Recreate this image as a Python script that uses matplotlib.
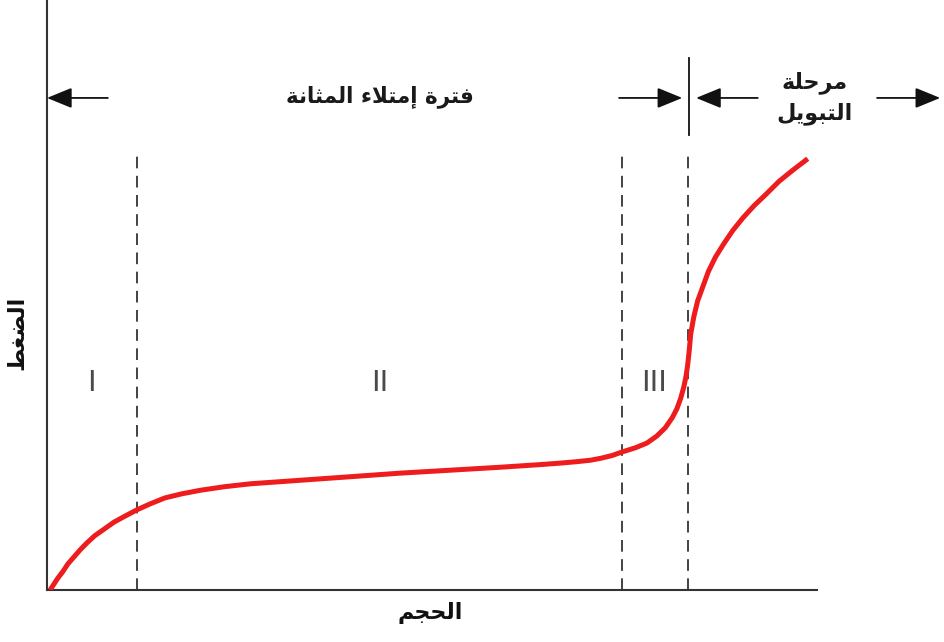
import matplotlib
matplotlib.use("Agg")
import matplotlib.pyplot as plt

# ---- data (volume vs pressure, arbitrary units 0-100) ----
volume = [0.4, 0.9, 1.4, 2.1, 2.7, 3.5, 4.3, 5.2, 6.2, 7.4, 8.7, 10.1, 11.7,
          13.4, 15.3, 17.5, 19.9, 23.0, 26.4, 32.9, 39.4, 45.8, 52.3, 58.8,
          64.0, 66.6, 68.8, 70.6, 72.0, 73.4, 74.7, 76.4, 77.9, 79.2, 80.3,
          81.2, 81.8, 82.3, 82.7, 83.0, 83.2, 83.4, 83.6, 84.0, 84.5, 85.2,
          85.9, 86.8, 87.9, 89.1, 90.4, 91.8, 93.4, 95.1, 96.9, 98.8]
pressure = [0.0, 1.0, 2.0, 3.2, 4.4, 5.6, 6.8, 8.0, 9.2, 10.3, 11.5, 12.5, 13.6,
            14.6, 15.6, 16.3, 16.9, 17.5, 18.0, 18.6, 19.2, 19.8, 20.3, 20.8,
            21.25, 21.5, 21.75, 22.0, 22.35, 22.8, 23.4, 24.1, 24.9, 26.1,
            27.5, 29.2, 30.7, 32.5, 34.4, 36.3, 38.1, 40.5, 43.4, 46.3, 49.0,
            51.5, 54.0, 56.4, 58.7, 61.0, 63.1, 65.1, 67.1, 69.3, 71.2, 73.1]
phase_bounds = [11.7, 74.7, 83.2]
phase_labels = ["I", "II", "III"]
phase_label_x = [5.8, 43.2, 78.8]

# Arabic strings in presentation forms, visual (left-to-right) order
filling_txt = ("\uFE94\uFEE7\uFE8E\uFE9C\uFEE4\uFEDF\uFE8D" + " " +
               "\uFE80\uFEFC\uFE98\uFEE3\uFE87" + " " +
               "\uFE93\uFEAE\uFE98\uFED3")           # فترة إمتلاء المثانة
voiding_txt = ("\uFE94\uFEE0\uFEA3\uFEAE\uFEE3" + "\n" +
               "\uFEDE\uFEF3\uFEEE\uFE92\uFE98\uFEDF\uFE8D")  # مرحلة / التبويل
ylabel_txt = "\uFEC2\uFED0\uFEC0\uFEDF\uFE8D"       # الضغط
xlabel_txt = "\uFEE2\uFEA0\uFEA4\uFEDF\uFE8D"       # الحجم

W, H = 945, 642
fig = plt.figure(figsize=(W / 100, H / 100), dpi=100)
ax = fig.add_axes([47 / W, (H - 590) / H, 770 / W, 590 / H])
ax.set_xlim(0, 100)
ax.set_ylim(0, 100)

for s in ["top", "right"]:
    ax.spines[s].set_visible(False)
for s in ["left", "bottom"]:
    ax.spines[s].set_color("#333333")
    ax.spines[s].set_linewidth(1.5)
ax.set_xticks([])
ax.set_yticks([])

# phase boundaries
for xb in phase_bounds:
    ax.plot([xb, xb], [0, 73.7], color="#222222", lw=1.2, ls=(0, (7, 4.5)))

# curve
ax.plot(volume, pressure, color="#ee1c1c", lw=3.6, solid_capstyle="butt",
        solid_joinstyle="round", zorder=3)

# phase labels
for lab, lx in zip(phase_labels, phase_label_x):
    ax.text(lx, 35.1, lab, ha="center", va="center", fontsize=21,
            color="#4a4a4a", family="DejaVu Sans")

# vertical divider
ax.plot([83.4, 83.4], [77.1, 90.2], color="#111111", lw=1.3, clip_on=False)

ap = dict(arrowstyle="-|>,head_length=1.1,head_width=0.45", color="#111111",
          lw=1.3, shrinkA=0, shrinkB=0, mutation_scale=14)
arrows = [((7.9, 83.4), (0.0, 83.4)),
          ((74.3, 83.4), (82.5, 83.4)),
          ((92.3, 83.4), (84.3, 83.4)),
          ((107.8, 83.4), (116.0, 83.4))]
for tail, head in arrows:
    ax.annotate("", xy=head, xytext=tail, arrowprops=ap, annotation_clip=False)

ax.text(43.2, 83.6, filling_txt, ha="center", va="center", fontsize=15.5,
        fontweight="bold", family="DejaVu Sans", color="#1a1a1a")
ax.text(99.7, 83.4, voiding_txt, ha="center", va="center", fontsize=16,
        fontweight="bold", family="DejaVu Sans", color="#1a1a1a",
        linespacing=1.5, clip_on=False)

fig.text(430 / W, 1 - 613 / H, xlabel_txt, ha="center", va="center",
         fontsize=16, fontweight="bold", family="DejaVu Sans", color="#111111")
fig.text(17 / W, 1 - 333 / H, ylabel_txt, ha="center", va="center", rotation=90,
         fontsize=16, fontweight="bold", family="DejaVu Sans", color="#111111")

fig.savefig("out.png", dpi=100)
